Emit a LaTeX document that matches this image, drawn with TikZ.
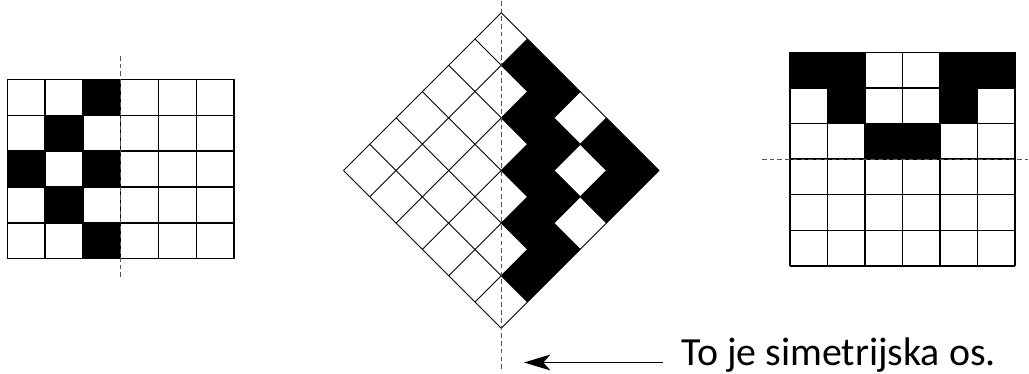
\documentclass[tikz,border=0pt]{standalone}
\usepackage{fontspec}
\setmainfont{Carlito}
\usetikzlibrary{arrows.meta,calc}
\definecolor{AxisGray}{HTML}{555555}

\begin{document}
\begin{tikzpicture}[x=0.02cm,y=-0.02cm,
  gridline/.style={draw=black,line width=0.7pt},
  tiltline/.style={draw=black,line width=0.5pt},
  axis/.style={draw=AxisGray,line width=0.6pt,dash pattern=on 2.6pt off 1.8pt},
  pointer/.style={-{Stealth[length=15pt,width=9pt,inset=4pt]},line width=0.8pt},
  note/.style={inner sep=0pt,font=\fontsize{22.7}{27}\selectfont},
]
\useasboundingbox (0,0) rectangle (1029,374);
\foreach \c/\r in {2/0,1/1,0/2,2/2,1/3,2/4}
  \fill ({7.3+\c*37.8},{79.3+\r*35.9}) rectangle ++(37.8,35.9);
\foreach \c in {0,...,6}
  \draw[gridline] ({7.3+\c*37.8},79.3) -- ++(0,179.5);
\foreach \r in {0,...,5}
  \draw[gridline] (7.3,{79.3+\r*35.9}) -- ++(226.8,0);
\draw[axis] (120.7,56) -- (120.7,280);
\foreach \i/\j in {1/0,2/0,4/0,5/0,2/1,3/1,5/1,3/2,4/2,4/3,5/3,5/4}
  \fill ({501.3+(\i-\j)*26.3},{12.7+(\i+\j)*26.3}) -- ++(26.3,26.3) -- ++(-26.3,26.3) -- ++(-26.3,-26.3) -- cycle;
\foreach \k in {0,...,6} {
  \draw[tiltline] ({501.3-\k*26.3},{12.7+\k*26.3}) -- ++(157.8,157.8);
  \draw[tiltline] ({501.3+\k*26.3},{12.7+\k*26.3}) -- ++(-157.8,157.8);
}
\draw[axis] (501.3,1) -- (501.3,372);
\foreach \c/\r in {0/0,1/0,4/0,5/0,1/1,4/1,2/2,3/2}
  \fill ({790+\c*37.5},{52.3+\r*35.6}) rectangle ++(37.5,35.6);
\foreach \c in {0,...,6}
  \draw[gridline] ({790+\c*37.5},52.3) -- ++(0,213.6);
\foreach \r in {0,...,6}
  \draw[gridline] (790,{52.3+\r*35.6}) -- ++(225,0);
\draw[axis] (762,159.1) -- (1028,159.1);
\node[note,anchor=base west] (remark) at (681,365.5) {To je simetrijska os.};
\coordinate (tip) at (524,362.5);
\draw[pointer] ($(remark.west |- tip)+(-18,0)$) -- (tip);
\end{tikzpicture}
\end{document}
